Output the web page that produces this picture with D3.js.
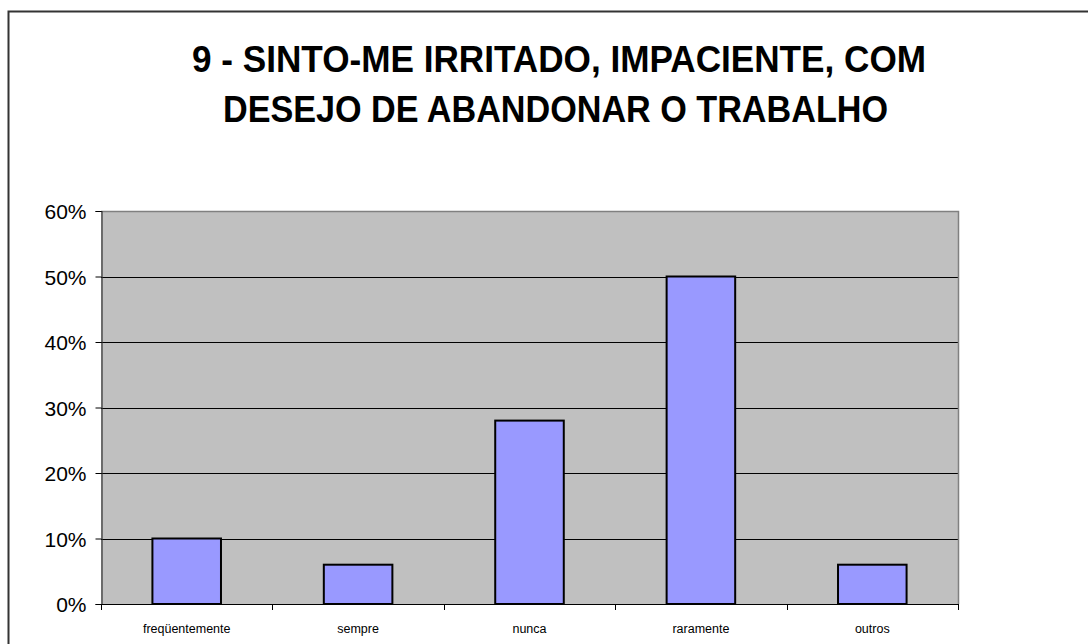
<!DOCTYPE html>
<html><head><meta charset="utf-8">
<script src="https://cdn.jsdelivr.net/npm/d3@7"></script>
<style>body{margin:0;background:#fff;} svg{display:block;font-family:"Liberation Sans",Arial,sans-serif;}</style>
</head><body>
<svg id="c" width="1088" height="644"></svg>
<script>
const categories = ["freqüentemente","sempre","nunca","raramente","outros"];
const values = [0.10,0.06,0.28,0.50,0.06];
const yTicks = [0,0.1,0.2,0.3,0.4,0.5,0.6];
const titleLines = ["9 - SINTO-ME IRRITADO, IMPACIENTE, COM","DESEJO DE ABANDONAR O TRABALHO"];

const svg = d3.select("#c");
// outer frame
svg.append("rect").attr("x",8.5).attr("y",11.5).attr("width",1200).attr("height",800)
  .attr("fill","#fff").attr("stroke","#333").attr("stroke-width",2);

const L=101, R=958, T=211, B=604;
const x = d3.scaleBand().domain(categories).range([L,R]).paddingInner(0.6).paddingOuter(0.3);
const y = d3.scaleLinear().domain([0,0.6]).range([B,T]);

svg.append("rect").attr("x",L).attr("y",T).attr("width",R-L).attr("height",B-T).attr("fill","#C0C0C0");
// grid
svg.append("g").selectAll("line").data(yTicks.slice(1,-1)).join("line")
  .attr("x1",L).attr("x2",R).attr("y1",d=>Math.round(y(d))+0.5).attr("y2",d=>Math.round(y(d))+0.5)
  .attr("stroke","#000").attr("stroke-width",1);
// plot border top/right gray
svg.append("path").attr("d",`M${L},${T+0.5}H${R+0.5}V${B}`).attr("fill","none").attr("stroke","#808080").attr("stroke-width",1.5);

// bars
svg.append("g").selectAll("rect").data(values).join("rect")
  .attr("x",(d,i)=>x(categories[i])).attr("width",x.bandwidth())
  .attr("y",d=>y(d)).attr("height",d=>B-y(d))
  .attr("fill","#9999FF").attr("stroke","#000").attr("stroke-width",2);

// y axis
const yAxis = d3.axisLeft(y).tickValues(yTicks).tickFormat(d3.format(".0%")).tickSize(6).tickPadding(9);
const gy = svg.append("g").attr("transform",`translate(${L+0.5},0)`).call(yAxis);
gy.select(".domain").attr("stroke","#333").attr("stroke-width",1.2);
gy.selectAll(".tick line").attr("stroke","#000");
gy.selectAll("text").attr("font-size",21).attr("fill","#000").attr("font-family","Liberation Sans, Arial, sans-serif").attr("dy","0.36em");

// x axis: ticks at boundaries
const bounds = d3.range(categories.length+1).map(i=>L + i*(R-L)/categories.length);
svg.append("line").attr("x1",L).attr("x2",R+0.5).attr("y1",B+0.5).attr("y2",B+0.5).attr("stroke","#000").attr("stroke-width",1.2);
svg.append("g").selectAll("line").data(bounds).join("line")
  .attr("x1",d=>Math.round(d)+0.5).attr("x2",d=>Math.round(d)+0.5).attr("y1",B).attr("y2",B+6).attr("stroke","#000");
svg.append("g").selectAll("text").data(categories).join("text")
  .attr("x",d=>x(d)+x.bandwidth()/2).attr("y",633).attr("text-anchor","middle")
  .attr("font-size",12.5).attr("fill","#000").text(d=>d);

// title
const tl = [{t:titleLines[0],y:71.7,w:734,cx:559},{t:titleLines[1],y:121.7,w:665,cx:555.5}];
svg.append("g").selectAll("text").data(tl).join("text")
  .attr("x",d=>d.cx).attr("y",d=>d.y).attr("text-anchor","middle")
  .attr("font-size",36.5).attr("font-weight","bold").attr("fill","#000")
  .attr("textLength",d=>d.w).attr("lengthAdjust","spacingAndGlyphs").text(d=>d.t);
</script>
</body></html>
